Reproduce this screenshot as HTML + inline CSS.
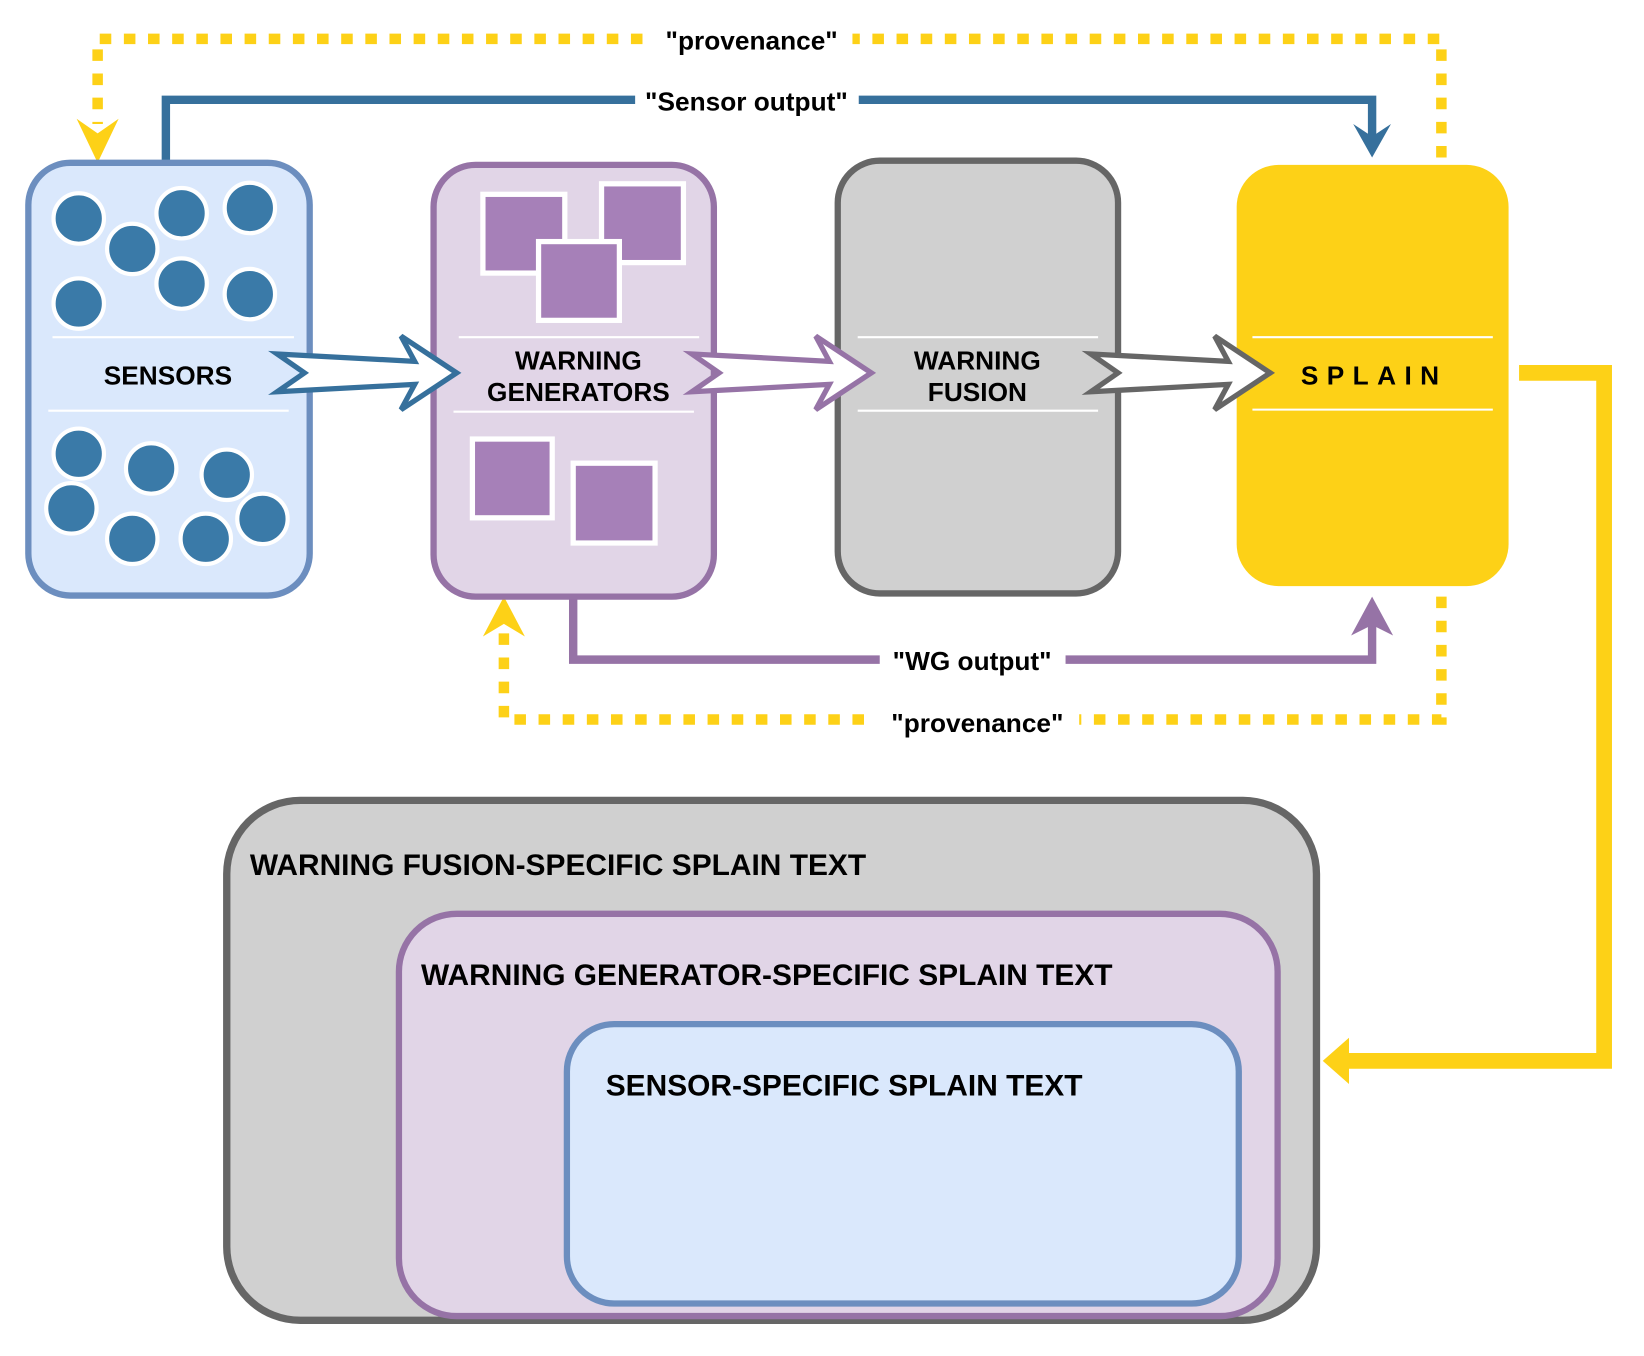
<!DOCTYPE html>
<html><head><style>html,body{margin:0;padding:0;background:#fff}svg{display:block}</style></head>
<body>
<svg width="1644" height="1356" viewBox="0 0 1566 1291" preserveAspectRatio="none" xmlns="http://www.w3.org/2000/svg" font-family="Liberation Sans, Arial, sans-serif" font-weight="bold">
<!-- top provenance -->
<path d="M1373,150 L1373,37 L93,37 L93,118" fill="none" stroke="#fdd117" stroke-width="10" stroke-dasharray="11,12"/>
<polygon points="73,113 93,155 113,113 93,127" fill="#fdd117"/>
<rect x="622" y="22" width="190" height="32" fill="#fff"/>
<text x="716" y="47" font-size="25" text-anchor="middle">"provenance"</text>
<!-- sensor output -->
<path d="M158,157 L158,95 L1307,95 L1307,135" fill="none" stroke="#36709c" stroke-width="8"/>
<polygon points="1289,118 1307,150 1325,118 1307,130" fill="#36709c"/>
<rect x="605" y="80" width="213" height="32" fill="#fff"/>
<text x="711" y="105" font-size="25" text-anchor="middle">"Sensor output"</text>
<!-- WG output -->
<path d="M546,568 L546,628 L1307,628 L1307,590" fill="none" stroke="#9673a6" stroke-width="8"/>
<polygon points="1287,605 1307,568 1327,605 1307,595" fill="#9673a6"/>
<rect x="838" y="612" width="177" height="32" fill="#fff"/>
<text x="926" y="638" font-size="25" text-anchor="middle">"WG output"</text>
<!-- bottom provenance -->
<path d="M1373,568 L1373,685 L480,685 L480,600" fill="none" stroke="#fdd117" stroke-width="10" stroke-dasharray="11,12"/>
<polygon points="460,606 480,568 500,606 480,594" fill="#fdd117"/>
<rect x="834" y="671" width="194" height="32" fill="#fff"/>
<text x="931" y="697" font-size="25" text-anchor="middle">"provenance"</text>
<!-- yellow solid -->
<path d="M1447,355 L1528,355 L1528,1010 L1285,1010" fill="none" stroke="#fdd117" stroke-width="15"/>
<polygon points="1285,988 1260,1010 1285,1032" fill="#fdd117"/>
<!-- boxes -->
<rect x="27" y="155" width="268" height="412" rx="40" fill="#dae8fc" stroke="#6c8ebf" stroke-width="6"/>
<line x1="50" y1="321" x2="280" y2="321" stroke="#fff" stroke-width="2"/>
<line x1="46" y1="391" x2="275" y2="391" stroke="#fff" stroke-width="2"/>
<g fill="#3a7aa8" stroke="#fff" stroke-width="4">
<circle cx="75" cy="208" r="24"/><circle cx="126" cy="237" r="24"/><circle cx="173" cy="203" r="24"/><circle cx="238" cy="198" r="24"/><circle cx="75" cy="289" r="24"/><circle cx="173" cy="270" r="24"/><circle cx="238" cy="280" r="24"/>
<circle cx="75" cy="432" r="24"/><circle cx="144" cy="446" r="24"/><circle cx="216" cy="452" r="24"/><circle cx="68" cy="484" r="24"/><circle cx="126" cy="513" r="24"/><circle cx="196" cy="513" r="24"/><circle cx="250" cy="494" r="24"/>
</g>
<text x="160" y="366" font-size="25" text-anchor="middle">SENSORS</text>

<rect x="413" y="157" width="267" height="411" rx="40" fill="#e1d5e7" stroke="#9673a6" stroke-width="6"/>
<line x1="437" y1="321" x2="666" y2="321" stroke="#fff" stroke-width="2"/>
<line x1="432" y1="392" x2="661" y2="392" stroke="#fff" stroke-width="2"/>
<g fill="#a680b8" stroke="#fff" stroke-width="5">
<rect x="460" y="185" width="78" height="75"/><rect x="573" y="175" width="78" height="75"/><rect x="513" y="230" width="77" height="75"/>
<rect x="450" y="418" width="76" height="75"/><rect x="546" y="441" width="78" height="76"/>
</g>
<text x="551" y="352" font-size="25" text-anchor="middle">WARNING</text>
<text x="551" y="382" font-size="25" text-anchor="middle">GENERATORS</text>

<rect x="798" y="153" width="267" height="412" rx="40" fill="#d0d0d0" stroke="#666" stroke-width="6"/>
<line x1="817" y1="321" x2="1046" y2="321" stroke="#fff" stroke-width="2"/>
<line x1="817" y1="391" x2="1046" y2="391" stroke="#fff" stroke-width="2"/>
<text x="931" y="352" font-size="25" text-anchor="middle">WARNING</text>
<text x="931" y="382" font-size="25" text-anchor="middle">FUSION</text>

<rect x="1178" y="157" width="259" height="401" rx="40" fill="#fdd117"/>
<line x1="1193" y1="321" x2="1422" y2="321" stroke="#fff" stroke-width="2"/>
<line x1="1193" y1="390" x2="1422" y2="390" stroke="#fff" stroke-width="2"/>
<text x="1309" y="366" font-size="25" text-anchor="middle" letter-spacing="8">SPLAIN</text>

<!-- block arrows -->
<polygon points="264,337 290,355 264,373 395,366 382,390 435,355 382,320 395,344" fill="#fff" stroke="#36709c" stroke-width="5"/>
<polygon points="659,337 685,355 659,373 790,366 777,390 830,355 777,320 790,344" fill="#fff" stroke="#9673a6" stroke-width="5"/>
<polygon points="1039,337 1065,355 1039,373 1170,366 1157,390 1210,355 1157,320 1170,344" fill="#fff" stroke="#666" stroke-width="5"/>

<!-- nested boxes -->
<rect x="216" y="762" width="1038" height="495" rx="70" fill="#d0d0d0" stroke="#666" stroke-width="7"/>
<text x="238" y="833" font-size="28.5">WARNING FUSION-SPECIFIC SPLAIN TEXT</text>
<rect x="380" y="870" width="837" height="383" rx="55" fill="#e1d5e7" stroke="#9673a6" stroke-width="6"/>
<text x="401" y="938" font-size="28.5">WARNING GENERATOR-SPECIFIC SPLAIN TEXT</text>
<rect x="540" y="975" width="640" height="266" rx="45" fill="#dae8fc" stroke="#6c8ebf" stroke-width="6"/>
<text x="577" y="1043" font-size="28.5">SENSOR-SPECIFIC SPLAIN TEXT</text>
</svg>
</body></html>
